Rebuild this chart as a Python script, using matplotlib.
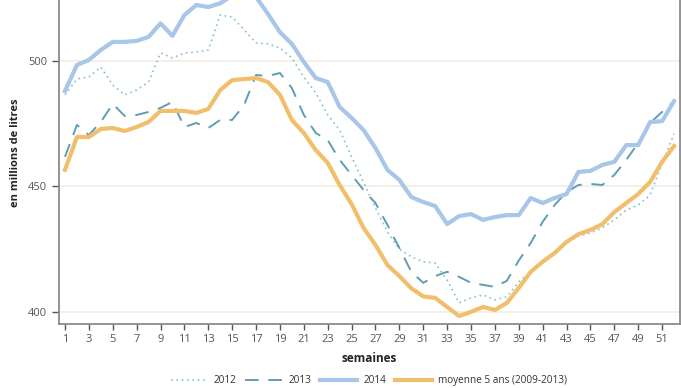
import matplotlib
matplotlib.use("Agg")
import matplotlib.pyplot as plt

plt.rcParams['font.family'] = ['Open Sans', 'DejaVu Sans']

weeks = list(range(1, 53))

# stocks hebdomadaires, en millions de litres
y2012 = [486.5, 492.8, 493.6, 497.6, 490.4, 486.5, 488.4, 491.6, 503.2, 501.2,
         503.2, 503.6, 504.4, 518.3, 517.5, 512.4, 507.2, 506.8, 505.2, 501.2,
         493.6, 487.3, 478.5, 472.5, 461.8, 451.8, 441.4, 431.9, 425.0, 422.0,
         420.0, 419.5, 412.7, 403.6, 405.6, 406.8, 404.8, 406.0, 412.0, 416.0,
         420.0, 424.0, 427.5, 430.3, 431.5, 433.5, 436.7, 440.6, 442.6, 446.6,
         459.0, 471.0]
y2013 = [461.8, 474.5, 470.5, 475.7, 482.9, 478.1, 478.5, 479.7, 481.3, 483.7,
         473.7, 475.3, 473.3, 476.5, 476.5, 482.5, 494.4, 494.0, 495.2, 489.2,
         478.5, 471.3, 468.5, 460.6, 454.6, 448.6, 443.4, 434.7, 425.5, 416.0,
         411.6, 414.3, 416.0, 414.0, 411.6, 410.8, 410.0, 412.4, 420.5, 427.5,
         435.9, 442.6, 447.8, 450.6, 451.0, 450.6, 454.6, 460.6, 467.3, 475.3,
         479.7, 484.0]
y2014 = [488.0, 498.4, 500.4, 504.4, 507.6, 507.6, 508.0, 509.6, 515.0, 510.0,
         518.3, 522.3, 521.5, 523.0, 526.0, 528.0, 525.5, 518.7, 511.5, 506.8,
         499.6, 493.2, 491.6, 481.7, 477.3, 472.5, 465.3, 456.6, 452.6, 445.8,
         443.8, 442.2, 435.0, 438.2, 439.0, 436.7, 437.8, 438.6, 438.6, 445.4,
         443.4, 445.4, 447.0, 455.8, 456.2, 458.6, 459.8, 466.5, 466.5, 475.7,
         476.0, 484.0]
moyenne = [456.6, 469.7, 469.7, 472.9, 473.3, 472.1, 473.7, 475.7, 480.1, 480.1,
           480.1, 479.3, 480.9, 488.4, 492.4, 492.8, 493.2, 491.6, 486.5, 476.5,
           471.3, 464.5, 459.4, 450.6, 443.0, 433.5, 426.7, 418.7, 414.3, 409.4,
           406.2, 405.6, 402.0, 398.4, 400.0, 402.0, 400.8, 403.6, 409.6, 416.0,
           420.0, 423.5, 427.9, 431.0, 432.7, 435.0, 439.8, 443.4, 447.0, 451.8,
           459.8, 466.1]

fig = plt.figure(figsize=(6.81, 3.88), dpi=100)
ax = fig.add_axes([59 / 681, 64 / 388, 621 / 681, 324 / 388])

for v in [400, 450, 500]:
    ax.axhline(v, color='#f1ede4', lw=1.2, zorder=0)

ax.plot(weeks, y2012, color='#86bfd0', lw=1.2, ls=(0, (1, 2.2)), label='2012')
ax.plot(weeks, y2013, color='#5e9db5', lw=1.4, ls=(0, (7, 5)), label='2013')
ax.plot(weeks, y2014, color='#a8c5ea', lw=3.0, label='2014')
ax.plot(weeks, moyenne, color='#f1bf6c', lw=3.0, label='moyenne 5 ans (2009-2013)')

ax.set_xlim(0.5, 52.5)
ax.set_ylim(395.2, 524.3)
ax.set_xticks(range(1, 52, 2))
ax.set_yticks([400, 450, 500])

for s in ['left', 'bottom', 'right']:
    ax.spines[s].set_color('#8a8a8a')
    ax.spines[s].set_linewidth(1.3)
ax.spines['top'].set_visible(False)
ax.tick_params(axis='both', colors='#555555', labelsize=8, length=4, width=1)
ax.tick_params(axis='y', length=5)

ax.set_xlabel('semaines', fontsize=8.5, fontweight='bold', color='#222222', labelpad=5)
ax.set_ylabel('en millions de litres', fontsize=8, fontweight='bold', color='#222222')
ax.yaxis.set_label_coords(-0.061, 0.53)

ax.legend(loc='upper center', bbox_to_anchor=(0.499, -0.13), ncol=4, frameon=False,
          fontsize=7.2, handlelength=3.7, columnspacing=0.9, handletextpad=0.6,
          labelcolor='#333333')

fig.savefig('out.png', dpi=100)
